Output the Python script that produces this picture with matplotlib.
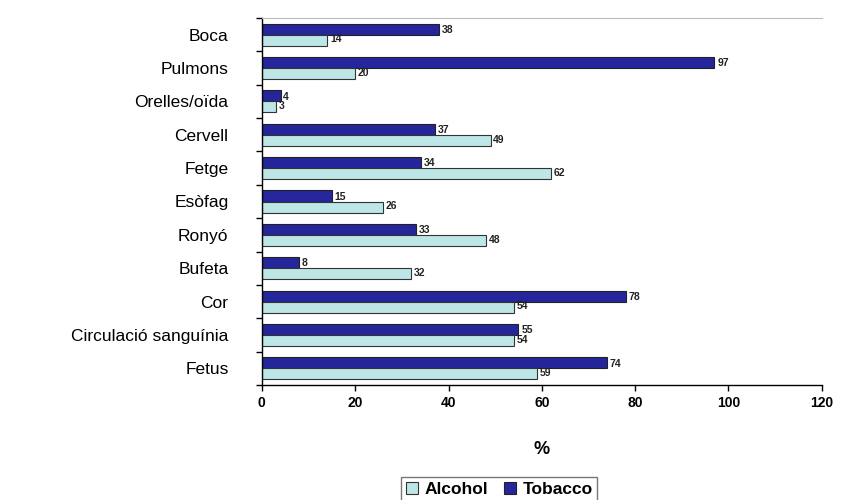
import matplotlib

matplotlib.use("Agg")

import matplotlib.pyplot as plt
import numpy as np

plt.rcParams["font.family"] = ["Liberation Sans", "DejaVu Sans"]

ORGANS = [
    "Boca", "Pulmons", "Orelles/oïda", "Cervell", "Fetge", "Esòfag",
    "Ronyó", "Bufeta", "Cor", "Circulació sanguínia", "Fetus",
]
TOBACCO = [38, 97, 4, 37, 34, 15, 33, 8, 78, 55, 74]
ALCOHOL = [14, 20, 3, 49, 62, 26, 48, 32, 54, 54, 59]
X_TICKS = [0, 20, 40, 60, 80, 100, 120]

TOBACCO_COLOR = "#26269c"
ALCOHOL_COLOR = "#bde6e6"

fig = plt.figure(figsize=(8.42, 5.0), dpi=100)
ax = fig.add_axes([0.311, 0.23, 0.665, 0.734])

y = np.arange(len(ORGANS))
h = 0.33
bt = ax.barh(y - h / 2, TOBACCO, height=h, color=TOBACCO_COLOR,
             edgecolor="#222222", linewidth=0.8, label="Tobacco")
ba = ax.barh(y + h / 2, ALCOHOL, height=h, color=ALCOHOL_COLOR,
             edgecolor="#333333", linewidth=0.8, label="Alcohol")

# value labels just past the end of each bar
for bars, vals, dy in ((bt, TOBACCO, -0.5), (ba, ALCOHOL, 0.5)):
    for rect, v in zip(bars, vals):
        ax.annotate(str(v), (v, rect.get_y() + rect.get_height() / 2),
                    xytext=(2, dy), textcoords="offset points",
                    va="center", ha="left", fontsize=7.5, fontweight="bold",
                    color="#222222")

ax.set_xlim(0, 120)
ax.set_ylim(len(ORGANS) - 0.5, -0.5)
ax.set_xticks(X_TICKS)
ax.set_xticklabels([str(t) for t in X_TICKS], fontsize=10, fontweight="bold")
ax.set_yticks(y)
ax.set_yticklabels(ORGANS, fontsize=12.5)
ax.tick_params(axis="y", length=0, pad=24)
ax.set_yticks(np.arange(len(ORGANS) + 1) - 0.5, minor=True)
ax.tick_params(axis="y", which="minor", length=4, width=1)
ax.tick_params(axis="x", length=4, width=1, pad=4)
ax.set_xlabel("%", fontsize=13, fontweight="bold", labelpad=22)

ax.spines["right"].set_visible(False)
ax.spines["top"].set_color("#bbbbbb")
ax.spines["left"].set_linewidth(1.0)
ax.spines["bottom"].set_linewidth(1.0)

handles, labels = ax.get_legend_handles_labels()
leg = fig.legend(handles[::-1], labels[::-1], loc="lower center",
                 bbox_to_anchor=(0.593, -0.02), ncol=2, frameon=True,
                 fancybox=False, edgecolor="#555555",
                 prop={"weight": "bold", "size": 12.5},
                 handlelength=0.7, handleheight=0.7, handletextpad=0.4,
                 columnspacing=0.9, borderpad=0.25)

fig.savefig("out.png", dpi=100)
